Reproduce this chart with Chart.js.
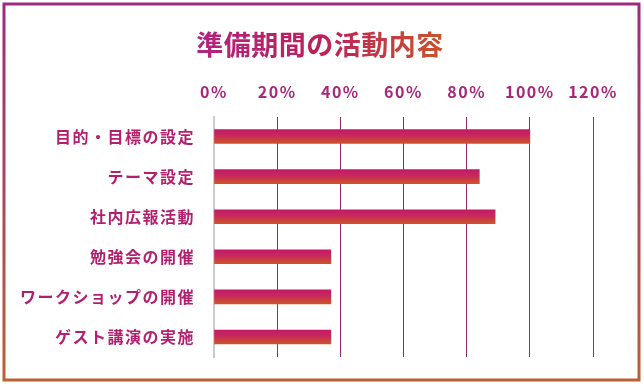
<!DOCTYPE html>
<html lang="ja">
<head>
  <meta charset="UTF-8">
  <script src="https://cdn.jsdelivr.net/npm/chart.js"></script>
  <title>準備期間の活動内容</title>
  <style>
    body {
      margin: 0;
      background-color: #ffffff;
    }
    #wrap {
      width: 644px;
      height: 388px;
    }
  </style>
</head>
<body>
  <div id="wrap">
    <canvas id="barChart" width="644" height="388"></canvas>
  </div>
  <script>
    const chartTitle = '準備期間の活動内容';
    const categories = ['目的・目標の設定', 'テーマ設定', '社内広報活動', '勉強会の開催', 'ワークショップの開催', 'ゲスト講演の実施'];
    const percents = [100, 84, 89, 37, 37, 37];
    const tickMax = 120;
    const tickStep = 20;

    const fontFamily = "'Noto Sans CJK JP', 'Noto Sans', sans-serif";
    const canvas = document.getElementById('barChart');
    const ctx = canvas.getContext('2d');

    // 文字間隔（キャンバスのリサイズで消えるので毎回設定）
    const spacingPlugin = {
      id: 'spacing',
      beforeUpdate(chart) { chart.ctx.letterSpacing = '1.5px'; },
      beforeDraw(chart) { chart.ctx.letterSpacing = '1.5px'; }
    };

    // 外枠とタイトル
    const framePlugin = {
      id: 'frame',
      beforeDraw(chart) {
        const c = chart.ctx;
        c.save();
        c.fillStyle = '#ffffff';
        c.fillRect(0, 0, chart.width, chart.height);
        const g = c.createLinearGradient(0, 0, 0, chart.height);
        g.addColorStop(0, '#9c2a80');
        g.addColorStop(1, '#b9632e');
        c.strokeStyle = g;
        c.lineWidth = 3;
        c.strokeRect(4, 4, chart.width - 9, chart.height - 12);
        c.restore();
      },
      afterDraw(chart) {
        const c = chart.ctx;
        c.save();
        const cx = 320;
        const tg = c.createLinearGradient(cx - 125, 0, cx + 125, 0);
        tg.addColorStop(0, '#b0257e');
        tg.addColorStop(0.5, '#be1f5c');
        tg.addColorStop(1, '#c8542b');
        c.fillStyle = tg;
        c.letterSpacing = '0.5px';
        c.font = 'bold 27px ' + fontFamily;
        c.textAlign = 'center';
        c.textBaseline = 'middle';
        c.fillText(chartTitle, cx, 45);
        c.restore();
      }
    };

    const barThick = 14;

    function barFill(context) {
      const chart = context.chart;
      const yScale = chart.scales.y;
      const cy = yScale ? yScale.getPixelForValue(context.dataIndex) : NaN;
      if (!isFinite(cy)) return '#c72a5a';
      const g = chart.ctx.createLinearGradient(0, cy - barThick / 2, 0, cy + barThick / 2);
      g.addColorStop(0, '#c4196c');
      g.addColorStop(0.45, '#c72a5a');
      g.addColorStop(1, '#cd5427');
      return g;
    }

    new Chart(ctx, {
      type: 'bar',
      data: {
        labels: categories,
        datasets: [{
          data: percents,
          backgroundColor: barFill,
          borderWidth: 0,
          barThickness: barThick
        }]
      },
      options: {
        indexAxis: 'y',
        responsive: false,
        animation: false,
        layout: {
          padding: { left: 10, right: 51, top: 70, bottom: 31 }
        },
        plugins: {
          legend: { display: false },
          tooltip: { enabled: false },
          title: { display: false }
        },
        scales: {
          x: {
            position: 'top',
            min: 0,
            max: tickMax,
            ticks: {
              stepSize: tickStep,
              padding: 15,
              color: '#a8277a',
              font: { family: fontFamily, size: 16, weight: 'bold' },
              callback: v => v + '%'
            },
            grid: {
              color: '#8e2a72',
              lineWidth: 1,
              drawTicks: false
            },
            border: { display: false },
            afterFit(scale) { scale.height = 46.5; }
          },
          y: {
            ticks: {
              padding: 19,
              color: '#b31f6c',
              font: { family: fontFamily, size: 16, weight: 'bold' }
            },
            grid: { display: false, drawTicks: false },
            border: { display: true, color: '#cccccc', width: 2 },
            afterFit(scale) { scale.width = 204; }
          }
        }
      },
      plugins: [spacingPlugin, framePlugin]
    });
  </script>
</body>
</html>
